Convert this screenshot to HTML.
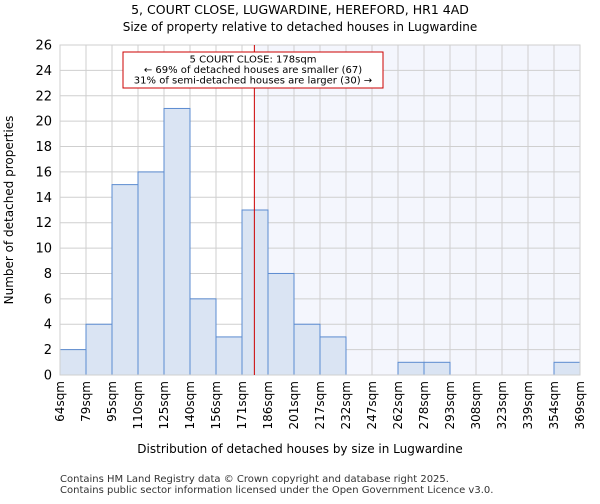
<!DOCTYPE html>
<html><head><meta charset="utf-8"><style>
body{margin:0;background:#fff;font-family:"DejaVu Sans","Liberation Sans",sans-serif}
</style></head><body>
<svg id="chart" width="600" height="500" xmlns="http://www.w3.org/2000/svg" font-family="DejaVu Sans, Liberation Sans, sans-serif">
<text x="300" y="14" text-anchor="middle" font-size="12.5">5, COURT CLOSE, LUGWARDINE, HEREFORD, HR1 4AD</text>
<text x="300" y="31" text-anchor="middle" font-size="12">Size of property relative to detached houses in Lugwardine</text>
<g id="plot"></g>
<text x="300" y="453" text-anchor="middle" font-size="12">Distribution of detached houses by size in Lugwardine</text>
<text x="13" y="210" text-anchor="middle" font-size="12" transform="rotate(-90 13 210)">Number of detached properties</text>
<text x="60" y="482" font-size="10" fill="#333">Contains HM Land Registry data © Crown copyright and database right 2025.</text>
<text x="60" y="493" font-size="10" fill="#333">Contains public sector information licensed under the Open Government Licence v3.0.</text>
</svg>
<script>
const categories=["64sqm","79sqm","95sqm","110sqm","125sqm","140sqm","156sqm","171sqm","186sqm","201sqm","217sqm","232sqm","247sqm","262sqm","278sqm","293sqm","308sqm","323sqm","339sqm","354sqm","369sqm"];
const counts=[2,4,15,16,21,6,3,13,8,4,3,0,0,1,1,0,0,0,0,1];
const yTicks=[0,2,4,6,8,10,12,14,16,18,20,22,24,26];
const binStart=64, binWidth=15.25, propertySize=178;
const L=60,R=580,T=45,B=375,yMax=26;
const NS="http://www.w3.org/2000/svg";
const g=document.getElementById('plot');
const bw=(R-L)/counts.length;
const xs=i=>L+i*bw;
const ys=v=>B-(v/yMax)*(B-T);
const xv=v=>L+(v-binStart)/binWidth*bw;
function mk(t,a){const e=document.createElementNS(NS,t);for(const k in a)e.setAttribute(k,a[k]);g.appendChild(e);return e;}
const px=xv(propertySize);
let sh=mk('rect',{x:px,y:T,width:R-px,height:B-T,fill:'#f4f6fd'});


for(let i=0;i<=counts.length;i++){let l=mk('line',{x1:xs(i),x2:xs(i),y1:T,y2:B,stroke:'#cfcfcf','stroke-width':1});

}
yTicks.forEach(v=>{let l=mk('line',{x1:L,x2:R,y1:ys(v),y2:ys(v),stroke:'#cfcfcf','stroke-width':1});


let t=mk('text',{x:L-8,y:ys(v)+4.5,'text-anchor':'end','font-size':13});t.textContent=v;

});
counts.forEach((c,i)=>{if(c<=0)return;let r=mk('rect',{x:xs(i),y:ys(c),width:bw,height:B-ys(c),fill:'#dae4f3',stroke:'#5b8bd0','stroke-width':1});

});
categories.forEach((c,i)=>{let x=xs(i)+4;let t=mk('text',{x:x,y:381,'text-anchor':'end','font-size':12,transform:`rotate(-90 ${x} 381)`});t.textContent=c;

});
let ax=mk('rect',{x:L,y:T,width:R-L,height:B-T,fill:'none',stroke:'#cfcfcf'});


let rl=mk('line',{x1:px,x2:px,y1:T,y2:B,stroke:'#cc0000','stroke-width':1});


let box=mk('rect',{x:123,y:52,width:260,height:36,fill:'#fff',stroke:'#cc0000','stroke-width':1});


["5 COURT CLOSE: 178sqm","← 69% of detached houses are smaller (67)","31% of semi-detached houses are larger (30) →"].forEach((s,i)=>{let t=mk('text',{x:253,y:62.5+i*10.5,'text-anchor':'middle','font-size':10});t.textContent=s;

});
</script>
</body></html>
